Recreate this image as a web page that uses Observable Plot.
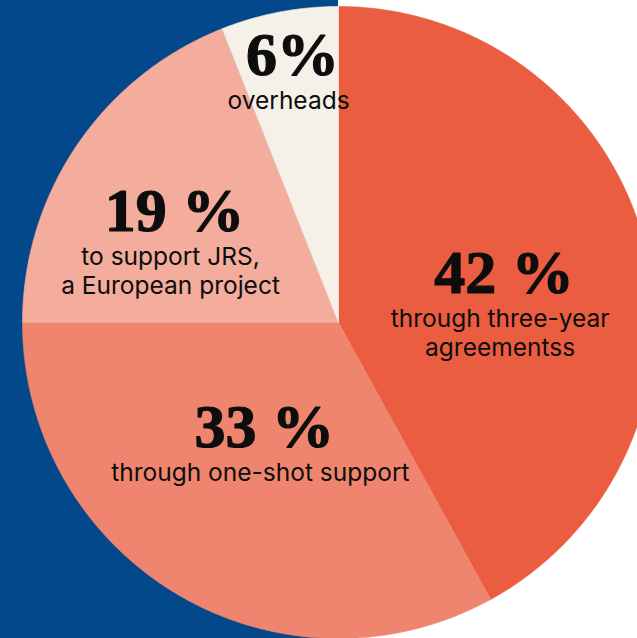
<!DOCTYPE html>
<html><head><meta charset="utf-8">
<script src="https://cdn.jsdelivr.net/npm/d3@7"></script>
<script src="https://cdn.jsdelivr.net/npm/@observablehq/plot@0.6"></script>
<style>html,body{margin:0;padding:0;background:#fff;overflow:hidden}</style>
</head><body><div id="chart"></div>
<script>
// ---- data ----
const categories = ["three-year agreements", "one-shot support", "JRS", "overheads"];
const shares = [42, 33, 19, 6];
const valueLabels = ["42 %", "33 %", "19 %", "6%"];
const descriptionLines = [
  ["through three-year", "agreementss"],
  ["through one-shot support"],
  ["to support JRS,", "a European project"],
  ["overheads"]
];
const sliceColors = ["#EA5D40", "#EF856E", "#F4AC9C", "#F5F1E9"];
const backgroundColor = "#03488A";

// ---- layout ----
const W = 637, H = 638;
const cx = 338, cy = 322, R = 316;
const xDomain = [-cx / R, (W - cx) / R];
const yDomain = [-(H - cy) / R, cy / R];
const labelRadius = [0.52, 0.464, 0.606, 0.80];
const labelAngleNudge = [3.9, 1.6, -5.5, -0.6];
const subGap = 34, lineGap = 29;

const total = d3.sum(shares);
const rad = a => a * Math.PI / 180;
let acc = 0;
const slices = shares.map((v, i) => {
  const a0 = acc / total * 360;
  acc += v;
  const a1 = acc / total * 360;
  const pts = [{x: 0, y: 0}];
  const n = Math.max(2, Math.ceil((a1 - a0) / 0.5));
  for (let k = 0; k <= n; k++) {
    const a = rad(a0 + (a1 - a0) * k / n);
    pts.push({x: Math.sin(a), y: Math.cos(a)});
  }
  pts.push({x: 0, y: 0});
  return {category: categories[i], a0, a1, mid: (a0 + a1) / 2, pts};
});

const anchors = slices.map((s, i) => {
  const a = rad(s.mid + labelAngleNudge[i]);
  return {x: labelRadius[i] * Math.sin(a), y: labelRadius[i] * Math.cos(a), value: valueLabels[i]};
});
const subRows = [];
anchors.forEach((p, i) => {
  descriptionLines[i].forEach((t, k) => {
    subRows.push({x: p.x, y: p.y - (subGap + lineGap * k) / R, text: t});
  });
});

const chart = Plot.plot({
  width: W, height: H, margin: 0,
  x: {domain: xDomain, axis: null},
  y: {domain: yDomain, axis: null},
  marks: [
    Plot.rect([0], {x1: xDomain[0], x2: 0, y1: yDomain[0], y2: yDomain[1], fill: backgroundColor}),
    ...slices.map((s, i) => Plot.line(s.pts, {x: "x", y: "y", fill: sliceColors[i], stroke: sliceColors[i], strokeWidth: 0.6})),
    Plot.text(anchors, {x: "x", y: "y", text: "value", lineAnchor: "bottom", textAnchor: "middle",
      fontFamily: "Liberation Serif", fontWeight: 700, fontSize: 62, fill: "#0d0d0d",
      stroke: "#0d0d0d", strokeWidth: 1.2, letterSpacing: -3, dx: 4}),
    Plot.text(subRows, {x: "x", y: "y", text: "text", lineAnchor: "bottom", textAnchor: "middle",
      fontFamily: "Inter", fontWeight: 400, fontSize: 24.5, fill: "#0d0d0d"})
  ]
});
chart.style.display = "block";
chart.style.background = "#fff";
document.getElementById("chart").appendChild(chart);
</script>
</body></html>
